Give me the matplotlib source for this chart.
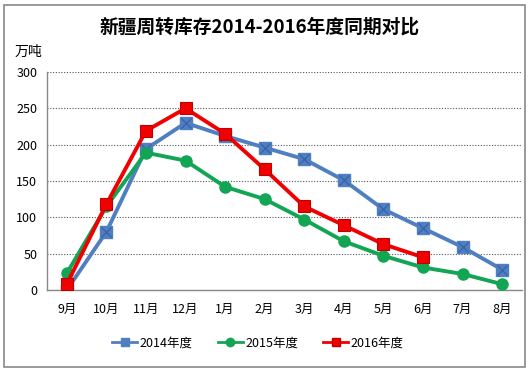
import matplotlib
matplotlib.use("Agg")
import matplotlib.pyplot as plt
from matplotlib.patches import Rectangle
from matplotlib.lines import Line2D

plt.rcParams['font.family'] = ['Noto Sans CJK SC', 'DejaVu Sans']

months = ['9月', '10月', '11月', '12月', '1月', '2月', '3月', '4月', '5月', '6月', '7月', '8月']
s2014 = [0, 80, 194, 230, 212, 196, 180, 151, 111, 85, 59, 28]
s2015 = [23, 115, 189, 178, 142, 125, 97, 67, 47, 31, 22, 8]
s2016 = [8, 118, 219, 250, 215, 166, 115, 89, 63, 45]
yticks = [0, 50, 100, 150, 200, 250, 300]

W, H = 530, 375
fig = plt.figure(figsize=(W / 100, H / 100), dpi=100)
fig.patches.append(Rectangle((4 / W, 1 - 367 / H), 521 / W, 362 / H, transform=fig.transFigure,
                             fill=False, edgecolor='#888888', linewidth=1.2))

ax = fig.add_axes([47 / W, 1 - 290 / H, 475 / W, 218 / H])
x = list(range(len(months)))

blue, green, red = '#4F7EC1', '#12A554', '#F00000'
ax.plot(x, s2014, color=blue, lw=2.8, marker='s', ms=8, mfc=blue, mec=blue, zorder=3)
ax.plot(x, s2014, ls='none', marker='x', ms=7, mew=1.0, color='#3A64A6', zorder=3.1)
ax.plot(x, s2015, color=green, lw=2.8, marker='o', ms=8, mfc=green, mec=green, zorder=4)
ax.plot(x[:len(s2016)], s2016, color=red, lw=2.8, marker='s', ms=9, mfc=red, mec='#C00000', mew=0.8, zorder=5)

ax.set_xlim(-0.5, len(months) - 0.5)
ax.set_ylim(0, 300)
ax.set_yticks(yticks)
ax.set_yticklabels([str(v) for v in yticks], fontsize=9)
ax.set_xticks(x)
ax.set_xticklabels(months, fontsize=9)
ax.tick_params(length=0, pad=9)
ax.tick_params(axis='y', pad=7)
ax.grid(axis='y', ls=(0, (1, 1.5)), color='#555555', lw=0.8)
ax.set_axisbelow(True)
for s in ['top', 'right']:
    ax.spines[s].set_visible(False)
for s in ['left', 'bottom']:
    ax.spines[s].set_color('#888888')
    ax.spines[s].set_linewidth(1.0)

fig.text(260 / W, 1 - 27 / H, '新疆周转库存2014-2016年度同期对比', ha='center', va='center',
         fontsize=13.5, fontweight='bold')
fig.text(15 / W, 1 - 52 / H, '万吨', ha='left', va='center', fontsize=10)

h1 = Line2D([], [], color=blue, lw=2, marker='s', ms=6, mfc=blue, mec=blue)
h2 = Line2D([], [], color=green, lw=2, marker='o', ms=6, mfc=green, mec=green)
h3 = Line2D([], [], color=red, lw=2, marker='s', ms=6, mfc=red, mec='#C00000')
fig.legend(handles=[h1, h2, h3], labels=['2014年度', '2015年度', '2016年度'], loc='center',
           bbox_to_anchor=(258 / W, 1 - 343 / H), ncol=3,
           frameon=False, fontsize=9, handlelength=2.0, columnspacing=2.0, handletextpad=0.2)

fig.savefig('out.png', dpi=100)
